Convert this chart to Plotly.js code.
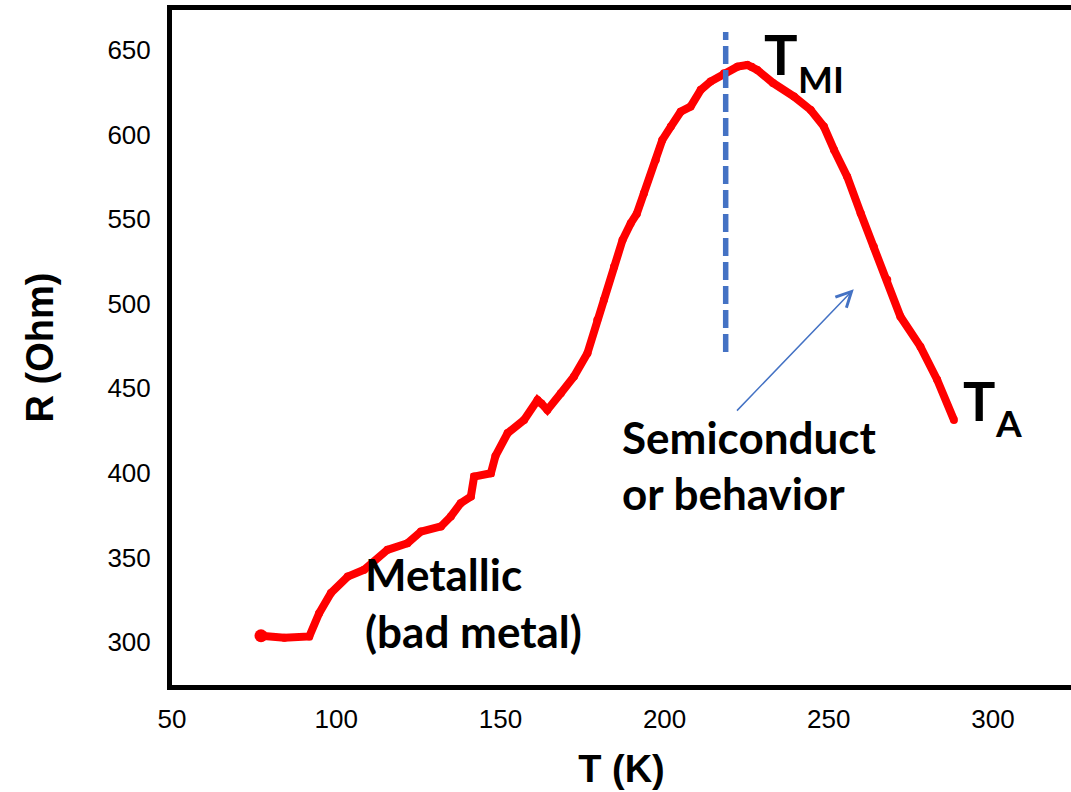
<!DOCTYPE html>
<html>
<head>
<meta charset="utf-8">
<script src="https://cdn.plot.ly/plotly-3.0.1.min.js"></script>
<style>html,body{margin:0;padding:0;background:#fff;}#chart{width:1071px;height:792px;}</style>
</head>
<body>
<div id="chart"></div>
<script>
// Resistance vs temperature
const temperatureK = [77.1, 84.2, 91.8, 94.8, 98.4, 103.5, 108.5, 115.6, 121.7, 125.8, 131.9, 134.9, 137.9, 141.0, 142.0, 147.1, 148.5, 152.2, 157.2, 161.3, 162.5, 164.3, 168.4, 172.4, 176.5, 179.5, 181.5, 184.6, 187.2, 189.7, 191.5, 193.7, 197.3, 199.3, 201.9, 204.9, 207.9, 211.0, 214.0, 218.1, 222.2, 225.2, 226.5, 228.2, 233.0, 239.4, 244.5, 248.5, 251.6, 255.6, 259.7, 263.7, 267.8, 271.8, 277.9, 283.0, 288.1];
const resistanceOhm = [303.7, 302.5, 303.3, 317.0, 329.0, 338.7, 342.7, 354.5, 358.4, 365.3, 368.3, 374.2, 382.1, 386.0, 397.8, 399.8, 410.0, 423.5, 431.3, 443.1, 441.0, 437.2, 447.1, 456.9, 470.7, 490.4, 502.2, 521.9, 537.7, 547.6, 553.0, 565.3, 585.0, 596.8, 604.7, 613.5, 616.5, 626.4, 631.3, 636.2, 640.1, 641.1, 640.0, 638.2, 630.5, 622.4, 614.5, 604.7, 590.9, 575.1, 553.5, 533.7, 514.1, 492.4, 474.6, 455.0, 431.3];

// T_MI marker line
const tmiLineX = [218.6, 218.6];
const tmiLineY = [471.5, 660.6];

const xTickVals = [50, 100, 150, 200, 250, 300];
const yTickVals = [300, 350, 400, 450, 500, 550, 600, 650];

const labelFont = 'Lato, "Open Sans", sans-serif';

const traces = [
  {
    x: temperatureK, y: resistanceOhm, type: 'scatter', mode: 'lines+markers',
    line: {color: '#ff0000', width: 8},
    marker: {color: '#ff0000', size: 8},
    hoverinfo: 'x+y', showlegend: false
  },
  {
    x: [temperatureK[0]], y: [resistanceOhm[0]], type: 'scatter', mode: 'markers',
    marker: {color: '#ff0000', size: 13}, showlegend: false, hoverinfo: 'skip'
  },
  {
    x: tmiLineX, y: tmiLineY, type: 'scatter', mode: 'lines',
    line: {color: '#4472c4', width: 5.5, dash: '18px,6px'},
    showlegend: false, hoverinfo: 'skip'
  }
];

function txt(text, x, y, size) {
  return {text: text, x: x, y: y, xref: 'x', yref: 'y', showarrow: false,
          xanchor: 'left', yanchor: 'middle', borderpad: 0,
          font: {family: labelFont, size: size, color: '#000', weight: 'bold'}};
}

const layout = {
  width: 1071, height: 792,
  margin: {l: 172, r: 0, t: 10, b: 107, pad: 0},
  paper_bgcolor: '#ffffff', plot_bgcolor: '#ffffff',
  showlegend: false,
  xaxis: {
    range: [50, 323.75], tickvals: xTickVals, ticks: '', showgrid: false, zeroline: false,
    showline: true, linecolor: '#000', linewidth: 5, mirror: true,
    ticklabelstandoff: 7,
    tickfont: {family: '"Liberation Sans", Arial, sans-serif', size: 26, color: '#000'},
    title: {text: 'T (K)', standoff: 24,
            font: {family: '"Liberation Sans", Arial, sans-serif', size: 38, color: '#000', weight: 'bold'}}
  },
  yaxis: {
    range: [274.6, 673.6], tickvals: yTickVals, ticks: '', showgrid: false, zeroline: false,
    showline: true, linecolor: '#000', linewidth: 5,
    ticklabelstandoff: 11,
    tickfont: {family: '"Liberation Sans", Arial, sans-serif', size: 26, color: '#000'},
    title: {text: 'R (Ohm)', standoff: 44,
            font: {family: '"Liberation Sans", Arial, sans-serif', size: 38, color: '#000', weight: 'bold'}}
  },
  annotations: [
    txt('Metallic', 108.6, 340.2, 44),
    txt('(bad metal)', 108.6, 306.5, 44),
    txt('Semiconduct', 186.7, 421.2, 44),
    txt('or behavior', 186.7, 388.2, 44),
    txt('T', 230.0, 647.6, 56),
    txt('MI', 240.4, 633.4, 37),
    txt('T', 290.6, 442.5, 54),
    txt('A', 300.3, 429.5, 37),
    {
      x: 257.6, y: 508.6, ax: 221.6, ay: 435.9, xref: 'x', yref: 'y', axref: 'x', ayref: 'y',
      showarrow: true, arrowhead: 5, arrowsize: 2, arrowwidth: 1.5, arrowcolor: '#4472c4', text: ''
    }
  ]
};

Plotly.newPlot('chart', traces, layout, {displayModeBar: false, staticPlot: true});
</script>
</body>
</html>
